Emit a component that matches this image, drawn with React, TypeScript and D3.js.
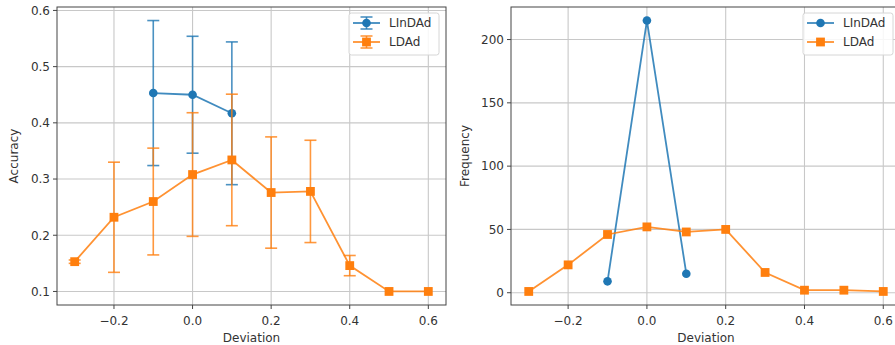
import { useEffect, useRef } from 'react';
import * as d3 from 'd3';

// Deviation values on the x axis
const deviations = [-0.3, -0.2, -0.1, 0.0, 0.1, 0.2, 0.3, 0.4, 0.5, 0.6];
const linDeviations = [-0.1, 0.0, 0.1];

// Accuracy (left panel)
const linAccuracy = [0.453, 0.45, 0.417];
const linAccuracyErr = [0.129, 0.104, 0.127];
const ldAccuracy = [0.153, 0.232, 0.26, 0.308, 0.334, 0.276, 0.278, 0.146, 0.1, 0.1];
const ldAccuracyErr = [0.003, 0.098, 0.095, 0.11, 0.117, 0.099, 0.091, 0.018, 0, 0];

// Frequency (right panel)
const linFrequency = [9, 215, 15];
const ldFrequency = [1, 22, 46, 52, 48, 50, 16, 2, 2, 1];

const xTicks = [-0.2, 0.0, 0.2, 0.4, 0.6];
const accTicks = [0.1, 0.2, 0.3, 0.4, 0.5, 0.6];
const freqTicks = [0, 50, 100, 150, 200];

const seriesNames = ['LInDAd', 'LDAd'];
const BLUE = '#1f77b4';
const ORANGE = '#ff7f0e';
const FONT = 'DejaVu Sans, sans-serif';
const FS = '12px';

// matplotlib-like auto limits with 5% margins
const padDomain = (lo: number, hi: number): [number, number] => {
  const m = (hi - lo) * 0.05;
  return [lo - m, hi + m];
};

const App = () => {
  const svgRef = useRef<SVGSVGElement | null>(null);

  useEffect(() => {
    const svg = d3.select(svgRef.current);
    svg.selectAll('*').remove();

    const top = 7;
    const bottom = 305;
    const xDomain = padDomain(d3.min(deviations)!, d3.max(deviations)!);

    const drawPanel = (opts: {
      left: number;
      right: number;
      yDomain: [number, number];
      yTicks: number[];
      yFormat: (v: number) => string;
      yLabel: string;
      yLabelX: number;
      blue: { x: number[]; y: number[]; err?: number[] };
      orange: { x: number[]; y: number[]; err?: number[] };
      legendX: number;
      errLegend: boolean;
    }) => {
      const x = d3.scaleLinear().domain(xDomain).range([opts.left, opts.right]);
      const y = d3.scaleLinear().domain(opts.yDomain).range([bottom, top]);
      const clipId = 'clip' + opts.left;

      svg.append('clipPath').attr('id', clipId)
        .append('rect')
        .attr('x', opts.left).attr('y', top)
        .attr('width', opts.right - opts.left).attr('height', bottom - top);

      const g = svg.append('g');

      // Grid
      g.selectAll('.vgrid')
        .data(xTicks)
        .enter()
        .append('line')
        .attr('x1', d => x(d)).attr('x2', d => x(d))
        .attr('y1', top).attr('y2', bottom)
        .attr('stroke', '#c8c8c8').attr('stroke-width', 1.1);
      g.selectAll('.hgrid')
        .data(opts.yTicks)
        .enter()
        .append('line')
        .attr('x1', opts.left).attr('x2', opts.right)
        .attr('y1', d => y(d)).attr('y2', d => y(d))
        .attr('stroke', '#c8c8c8').attr('stroke-width', 1.1);

      const plot = g.append('g').attr('clip-path', `url(#${clipId})`);

      const drawSeries = (s: { x: number[]; y: number[]; err?: number[] }, color: string, marker: 'circle' | 'square') => {
        const pts = s.x.map((xv, i) => ({ x: xv, y: s.y[i], e: s.err ? s.err[i] : 0 }));
        if (s.err) {
          pts.forEach(p => {
            if (p.e <= 0) return;
            const cx = x(p.x);
            plot.append('line')
              .attr('x1', cx).attr('x2', cx)
              .attr('y1', y(p.y - p.e)).attr('y2', y(p.y + p.e))
              .attr('stroke', color).attr('stroke-width', 1.6).attr('opacity', 0.8);
            [p.y - p.e, p.y + p.e].forEach(v => {
              plot.append('line')
                .attr('x1', cx - 6).attr('x2', cx + 6)
                .attr('y1', y(v)).attr('y2', y(v))
                .attr('stroke', color).attr('stroke-width', 1.6).attr('opacity', 0.8);
            });
          });
        }
        const line = d3.line<{ x: number; y: number }>().x(d => x(d.x)).y(d => y(d.y));
        plot.append('path')
          .datum(pts)
          .attr('d', line)
          .attr('fill', 'none')
          .attr('stroke', color)
          .attr('stroke-width', 1.8)
          .attr('opacity', 0.85);
        if (marker === 'circle') {
          plot.selectAll(null)
            .data(pts)
            .enter()
            .append('circle')
            .attr('cx', d => x(d.x)).attr('cy', d => y(d.y))
            .attr('r', 4.3)
            .attr('fill', color);
        } else {
          plot.selectAll(null)
            .data(pts)
            .enter()
            .append('rect')
            .attr('x', d => x(d.x) - 4.4).attr('y', d => y(d.y) - 4.4)
            .attr('width', 8.8).attr('height', 8.8)
            .attr('fill', color);
        }
      };

      drawSeries(opts.blue, BLUE, 'circle');
      drawSeries(opts.orange, ORANGE, 'square');

      // Spines
      g.append('rect')
        .attr('x', opts.left).attr('y', top)
        .attr('width', opts.right - opts.left).attr('height', bottom - top)
        .attr('fill', 'none').attr('stroke', '#444').attr('stroke-width', 1);

      // X ticks
      xTicks.forEach(t => {
        g.append('line')
          .attr('x1', x(t)).attr('x2', x(t))
          .attr('y1', bottom).attr('y2', bottom + 4)
          .attr('stroke', '#444');
        g.append('text')
          .attr('x', x(t)).attr('y', bottom + 20)
          .attr('text-anchor', 'middle')
          .style('font-family', FONT).style('font-size', FS).attr('fill', '#333')
          .text(t < 0 ? '\u2212' + Math.abs(t).toFixed(1) : t.toFixed(1));
      });

      // Y ticks
      opts.yTicks.forEach(t => {
        g.append('line')
          .attr('x1', opts.left - 4).attr('x2', opts.left)
          .attr('y1', y(t)).attr('y2', y(t))
          .attr('stroke', '#444');
        g.append('text')
          .attr('x', opts.left - 7).attr('y', y(t))
          .attr('dy', '0.36em')
          .attr('text-anchor', 'end')
          .style('font-family', FONT).style('font-size', FS).attr('fill', '#333')
          .text(opts.yFormat(t));
      });

      // Axis labels
      g.append('text')
        .attr('x', (opts.left + opts.right) / 2).attr('y', 342)
        .attr('text-anchor', 'middle')
        .style('font-family', FONT).style('font-size', FS).attr('fill', '#333')
        .text('Deviation');
      g.append('text')
        .attr('transform', `translate(${opts.yLabelX},${(top + bottom) / 2}) rotate(-90)`)
        .attr('text-anchor', 'middle')
        .attr('dy', '0.36em')
        .style('font-family', FONT).style('font-size', FS).attr('fill', '#333')
        .text(opts.yLabel);

      // Legend
      const lx = opts.legendX;
      const legend = g.append('g');
      legend.append('rect')
        .attr('x', lx).attr('y', 13)
        .attr('width', 90).attr('height', 42)
        .attr('rx', 2.5)
        .attr('fill', 'white').attr('fill-opacity', 0.85)
        .attr('stroke', '#d6d6d6');
      [BLUE, ORANGE].forEach((c, i) => {
        const ly = 23 + i * 19;
        const hx = lx + 4;
        legend.append('line')
          .attr('x1', hx).attr('x2', hx + 27)
          .attr('y1', ly).attr('y2', ly)
          .attr('stroke', c).attr('stroke-width', 1.8).attr('opacity', 0.85);
        if (opts.errLegend) {
          const mx = hx + 13.5;
          legend.append('line')
            .attr('x1', mx).attr('x2', mx).attr('y1', ly - 6).attr('y2', ly + 6)
            .attr('stroke', c).attr('stroke-width', 1.6).attr('opacity', 0.8);
          [ly - 6, ly + 6].forEach(v => {
            legend.append('line')
              .attr('x1', mx - 6).attr('x2', mx + 6).attr('y1', v).attr('y2', v)
              .attr('stroke', c).attr('stroke-width', 1.6).attr('opacity', 0.8);
          });
        }
        if (i === 0) {
          legend.append('circle').attr('cx', hx + 13.5).attr('cy', ly).attr('r', 4.3).attr('fill', c);
        } else {
          legend.append('rect')
            .attr('x', hx + 13.5 - 4.4).attr('y', ly - 4.4)
            .attr('width', 8.8).attr('height', 8.8).attr('fill', c);
        }
        legend.append('text')
          .attr('x', lx + 40).attr('y', ly)
          .attr('dy', '0.36em')
          .style('font-family', FONT).style('font-size', FS).attr('fill', '#333')
          .text(seriesNames[i]);
      });
    };

    const accLo = d3.min(ldAccuracy.map((v, i) => v - ldAccuracyErr[i]).concat(linAccuracy.map((v, i) => v - linAccuracyErr[i])))!;
    const accHi = d3.max(ldAccuracy.map((v, i) => v + ldAccuracyErr[i]).concat(linAccuracy.map((v, i) => v + linAccuracyErr[i])))!;

    drawPanel({
      left: 57,
      right: 446,
      yDomain: padDomain(accLo, accHi),
      yTicks: accTicks,
      yFormat: v => v.toFixed(1),
      yLabel: 'Accuracy',
      yLabelX: 14,
      blue: { x: linDeviations, y: linAccuracy, err: linAccuracyErr },
      orange: { x: deviations, y: ldAccuracy, err: ldAccuracyErr },
      legendX: 349,
      errLegend: true,
    });

    const freqAll = linFrequency.concat(ldFrequency);
    drawPanel({
      left: 511,
      right: 901,
      yDomain: padDomain(d3.min(freqAll)!, d3.max(freqAll)!),
      yTicks: freqTicks,
      yFormat: v => String(v),
      yLabel: 'Frequency',
      yLabelX: 465,
      blue: { x: linDeviations, y: linFrequency },
      orange: { x: deviations, y: ldFrequency },
      legendX: 803,
      errLegend: false,
    });
  }, []);

  return (
    <svg
      ref={svgRef}
      width={895}
      height={345}
      style={{ position: 'absolute', left: 0, top: 0, background: 'white' }}
    />
  );
};

export default App;
